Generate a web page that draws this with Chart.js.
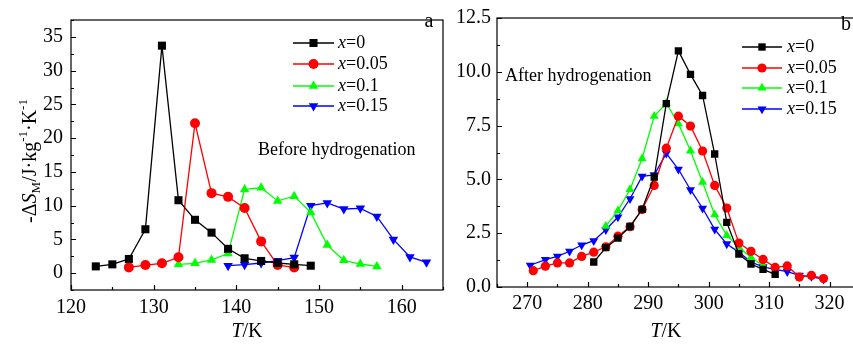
<!DOCTYPE html>
<html>
<head>
<meta charset="utf-8">
<script src="https://cdn.jsdelivr.net/npm/chart.js@4.4.1/dist/chart.umd.min.js"></script>
<style>
html, body { margin: 0; padding: 0; background: #fff; overflow: hidden; width: 853px; height: 345px; }
#ca { position: absolute; left: 0; top: 0; }
#cb { position: absolute; left: 450px; top: 0; }
</style>
</head>
<body>
<canvas id="ca" width="450" height="345"></canvas>
<canvas id="cb" width="415" height="345"></canvas>
<script>
// compositions (legend labels)
const compositions = ['0', '0.05', '0.1', '0.15'];

// panel a: before hydrogenation, T (K) and -dS_M (J/kg/K)
const tA0  = [123, 125, 127, 129, 131, 133, 135, 137, 139, 141, 143, 145, 147, 149];
const sA0  = [1.0, 1.3, 2.1, 6.5, 33.7, 10.8, 7.9, 6.0, 3.6, 2.2, 1.8, 1.5, 1.3, 1.1];
const tA05 = [127, 129, 131, 133, 135, 137, 139, 141, 143, 145, 147];
const sA05 = [0.85, 1.2, 1.45, 2.35, 22.2, 11.85, 11.3, 9.65, 4.7, 1.2, 0.85];
const tA10 = [133, 135, 137, 139, 141, 143, 145, 147, 149, 151, 153, 155, 157];
const sA10 = [1.3, 1.45, 1.95, 2.9, 12.4, 12.65, 10.7, 11.4, 9.0, 4.15, 1.9, 1.35, 1.0];
const tA15 = [139, 141, 143, 145, 147, 149, 151, 153, 155, 157, 159, 161, 163];
const sA15 = [1.1, 1.25, 1.5, 1.85, 2.3, 10.0, 10.4, 9.5, 9.6, 8.4, 5.0, 2.4, 1.6];

// panel b: after hydrogenation
const tB0  = [281, 283, 285, 287, 289, 291, 293, 295, 297, 299, 301, 303, 305, 307, 309, 311];
const sB0  = [1.16, 1.83, 2.27, 2.81, 3.61, 5.11, 8.52, 10.97, 9.88, 8.9, 6.18, 3.0, 1.53, 1.07, 0.82, 0.59];
const tB05 = [271, 273, 275, 277, 279, 281, 283, 285, 287, 289, 291, 293, 295, 297, 299, 301, 303, 305, 307, 309, 311, 313, 315, 317, 319];
const sB05 = [0.76, 0.97, 1.12, 1.12, 1.42, 1.62, 1.87, 2.36, 2.8, 3.6, 4.72, 6.45, 7.94, 7.48, 6.32, 4.72, 3.67, 2.04, 1.66, 1.28, 0.91, 0.98, 0.46, 0.54, 0.39];
const tB10 = [283, 285, 287, 289, 291, 293, 295, 297, 299, 301, 303, 305, 307, 309];
const sB10 = [2.83, 3.55, 4.53, 5.97, 7.94, 8.54, 7.59, 6.33, 4.87, 3.36, 2.4, 1.86, 1.37, 1.0];
const tB15 = [270.5, 273, 275, 277, 279, 281, 283, 285, 287, 289, 291, 293, 295, 297, 299, 301, 303, 305, 307, 309, 311, 313, 315, 317, 319];
const sB15 = [1.01, 1.27, 1.42, 1.66, 1.95, 2.15, 2.66, 3.25, 4.1, 5.14, 5.21, 6.21, 5.47, 4.52, 3.66, 2.68, 2.0, 1.62, 1.16, 0.94, 0.82, 0.71, 0.54, 0.48, 0.36];

// tick labels
const xTicksA = [120, 130, 140, 150, 160];
const yTicksA = [0, 5, 10, 15, 20, 25, 30, 35];
const xTicksB = [270, 280, 290, 300, 310, 320];
const yTicksB = [0, 2.5, 5, 7.5, 10, 12.5];

const COLORS = ['#000000', '#ff0000', '#00ff00', '#0000ff'];
const MARKERS = ['rect', 'circle', 'triangle', 'triangle'];
const ROTS = [0, 0, 0, 180];
const FONT = '"Liberation Serif", "Times New Roman", serif';

function segFont(s, size) {
  const sz = s.sh ? Math.round(size * 0.65) : size;
  return (s.i ? 'italic ' : '') + sz + 'px ' + FONT;
}

// draws mixed text (italic / sub / sup) on one line
function drawRich(ctx, segs, x, y, size, align) {
  let total = 0;
  segs.forEach(s => { ctx.font = segFont(s, size); total += ctx.measureText(s.t).width; });
  let cx = align === 'center' ? x - total / 2 : x;
  ctx.textAlign = 'left';
  ctx.textBaseline = 'middle';
  segs.forEach(s => {
    ctx.font = segFont(s, size);
    const dy = s.sh === 'sub' ? size * 0.3 : s.sh === 'sup' ? -size * 0.35 : 0;
    ctx.fillText(s.t, cx, y + dy);
    cx += ctx.measureText(s.t).width;
  });
}

const decoPlugin = {
  id: 'deco',
  afterDraw(chart, args, o) {
    const ctx = chart.ctx, a = chart.chartArea;
    const xs = chart.scales.x, ys = chart.scales.y;
    ctx.save();
    ctx.strokeStyle = '#000';
    ctx.lineWidth = 1.2;
    ctx.strokeRect(a.left, a.top, a.right - a.left, a.bottom - a.top);

    // inward ticks, bottom and left only
    ctx.beginPath();
    for (let v = xs.min; v <= xs.max + 1e-9; v += o.xMinor) {
      const px = Math.round(xs.getPixelForValue(v)) + 0.5;
      const major = Math.abs(v / o.xMajor - Math.round(v / o.xMajor)) < 1e-6;
      ctx.moveTo(px, a.bottom);
      ctx.lineTo(px, a.bottom - (major ? 5 : 3));
    }
    for (let v = ys.min; v <= ys.max + 1e-9; v += o.yMinor) {
      const py = Math.round(ys.getPixelForValue(v)) + 0.5;
      const major = Math.abs(v / o.yMajor - Math.round(v / o.yMajor)) < 1e-6;
      ctx.moveTo(a.left, py);
      ctx.lineTo(a.left + (major ? 5 : 3), py);
    }
    ctx.stroke();

    // legend
    chart.data.datasets.forEach((ds, i) => {
      const ly = o.legend.rows[i];
      ctx.strokeStyle = ds.borderColor;
      ctx.lineWidth = 1.3;
      ctx.beginPath();
      ctx.moveTo(o.legend.x0, ly);
      ctx.lineTo(o.legend.x1, ly);
      ctx.stroke();
      ctx.fillStyle = ds.backgroundColor;
      Chart.helpers.drawPoint(ctx, {
        pointStyle: ds.pointStyle, rotation: ds.pointRotation,
        radius: ds.pointRadius, borderWidth: 0
      }, (o.legend.x0 + o.legend.x1) / 2, ly);
      ctx.fillStyle = '#000';
      drawRich(ctx, [{ t: 'x', i: true }, { t: '=' + compositions[i] }], o.legend.tx, ly, 18, 'left');
    });

    ctx.fillStyle = '#000';
    // note + panel letter
    drawRich(ctx, [{ t: o.note.text }], o.note.x, o.note.y, 18, 'left');
    drawRich(ctx, [{ t: o.letter.text }], o.letter.x, o.letter.y, 20, 'center');
    // x title
    drawRich(ctx, [{ t: 'T', i: true }, { t: '/K' }], o.xTitle.x, o.xTitle.y, 20, 'center');
    // y title
    if (o.yTitle) {
      ctx.save();
      ctx.translate(o.yTitle.x, o.yTitle.y);
      ctx.rotate(-Math.PI / 2);
      drawRich(ctx, [
        { t: '-\u0394' }, { t: 'S', i: true }, { t: 'M', sh: 'sub' },
        { t: '/J\u00b7kg' }, { t: '-1', sh: 'sup' }, { t: '\u00b7K' }, { t: '-1', sh: 'sup' }
      ], 0, 0, 20, 'center');
      ctx.restore();
    }
    ctx.restore();
  }
};

function buildChart(id, series, sc, deco) {
  return new Chart(document.getElementById(id), {
    type: 'line',
    data: {
      datasets: series.map((s, i) => ({
        label: 'x=' + compositions[i],
        data: s.t.map((t, j) => ({ x: t, y: s.v[j] })),
        borderColor: COLORS[i],
        backgroundColor: COLORS[i],
        borderWidth: 1.3,
        pointStyle: MARKERS[i],
        pointRotation: ROTS[i],
        pointRadius: sc.r[i],
        pointBorderWidth: 0,
        tension: 0
      }))
    },
    options: {
      responsive: false,
      animation: false,
      devicePixelRatio: 1,
      layout: { padding: sc.pad },
      plugins: { legend: { display: false }, tooltip: { enabled: false }, deco: deco },
      scales: {
        x: {
          type: 'linear', min: sc.xMin, max: sc.xMax,
          grid: { display: false, drawTicks: false },
          border: { display: false },
          afterBuildTicks: s => { s.ticks = sc.xTicks.map(v => ({ value: v })); },
          afterFit: s => { s.height = sc.xH; },
          ticks: { autoSkip: false, maxRotation: 0, padding: sc.xPad, color: '#000',
                   font: { family: FONT, size: 20 } }
        },
        y: {
          type: 'linear', min: sc.yMin, max: sc.yMax,
          grid: { display: false, drawTicks: false },
          border: { display: false },
          afterBuildTicks: s => { s.ticks = sc.yTicks.map(v => ({ value: v })); },
          afterFit: s => { s.width = sc.yW; },
          ticks: { autoSkip: false, padding: sc.yPad, color: '#000',
                   font: { family: FONT, size: 20 },
                   callback: sc.yFmt }
        }
      }
    },
    plugins: [decoPlugin]
  });
}

buildChart('ca', [
  { t: tA0, v: sA0 }, { t: tA05, v: sA05 }, { t: tA10, v: sA10 }, { t: tA15, v: sA15 }
], {
  r: [5.7, 5, 5.5, 5.5],
  pad: { top: 8, right: 7, left: 0, bottom: 0 },
  xMin: 120, xMax: 165, yMin: -2.5, yMax: 37.5,
  xTicks: xTicksA, yTicks: yTicksA,
  xH: 55, yW: 71, xPad: 6, yPad: 8,
  yFmt: v => String(v)
}, {
  xMinor: 5, xMajor: 10, yMinor: 2.5, yMajor: 5,
  legend: { x0: 293, x1: 334, tx: 338, rows: [43, 64, 86, 106] },
  note: { text: 'Before hydrogenation', x: 258, y: 150 },
  letter: { text: 'a', x: 429, y: 22 },
  xTitle: { x: 247, y: 332 },
  yTitle: { x: 31, y: 161 }
});

buildChart('cb', [
  { t: tB0, v: sB0 }, { t: tB05, v: sB05 }, { t: tB10, v: sB10 }, { t: tB15, v: sB15 }
], {
  r: [5.2, 4.6, 5.2, 5.2],
  pad: { top: 12, right: 5, left: 0, bottom: 0 },
  xMin: 265, xMax: 325, yMin: 0, yMax: 12.5,
  xTicks: xTicksB, yTicks: yTicksB,
  xH: 58, yW: 47, xPad: 5, yPad: 6,
  yFmt: v => v.toFixed(1)
}, {
  xMinor: 5, xMajor: 10, yMinor: 1.25, yMajor: 2.5,
  legend: { x0: 292, x1: 332, tx: 337, rows: [47, 68, 88, 109] },
  note: { text: 'After hydrogenation', x: 55, y: 76 },
  letter: { text: 'b', x: 396, y: 25 },
  xTitle: { x: 216, y: 332 },
  yTitle: null
});
</script>
</body>
</html>
